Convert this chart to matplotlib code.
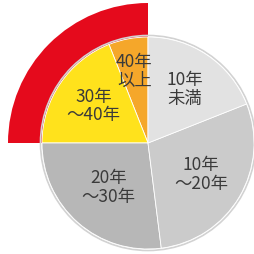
import matplotlib.pyplot as plt
import numpy as np

plt.rcParams['font.family'] = ['Noto Sans CJK JP', 'DejaVu Sans']

# slices, counterclockwise from 12 o'clock
labels = ["40年\n以上", "30年\n～40年", "20年\n～30年", "10年\n～20年", "10年\n未満"]
shares = [6, 19, 27, 29, 19]
colors = ["#f5a72a", "#ffe21c", "#b7b7b7", "#cbcbcb", "#e2e2e2"]
label_dist = [0.69, 0.62, 0.56, 0.58, 0.61]
highlight = [True, True, False, False, False]

fig = plt.figure(figsize=(2.54, 2.54), dpi=100)
ax = fig.add_axes([0, 0, 1, 1])

cx, cy = 148, 111
r_pie = 106
r_ring = 140

# red ring over the older groups
hl = sum(s for s, h in zip(shares, highlight) if h)
ax.pie([hl, sum(shares) - hl], colors=["#e50a1c", "none"], startangle=90,
       counterclock=True, radius=r_ring, center=(cx, cy),
       wedgeprops=dict(width=r_ring - r_pie, linewidth=0))

# soft outline
ax.add_patch(plt.Circle((cx, cy), r_pie + 1.5, facecolor="none",
                        edgecolor="#d2d2d2", linewidth=1.2))

wedges, _ = ax.pie(shares, colors=colors, startangle=90, counterclock=True,
                   radius=r_pie, center=(cx, cy),
                   wedgeprops=dict(edgecolor="white", linewidth=0.6))

for w, lab, d in zip(wedges, labels, label_dist):
    mid = np.deg2rad((w.theta1 + w.theta2) / 2)
    ax.text(cx + d * r_pie * np.cos(mid), cy + d * r_pie * np.sin(mid), lab,
            ha="center", va="center", multialignment="center",
            fontsize=12.5, color="#3a3a3a", linespacing=1.05)

ax.set_xlim(0, 254)
ax.set_ylim(0, 254)
ax.set_aspect("equal")
ax.axis("off")

fig.savefig("out.png", dpi=100)
